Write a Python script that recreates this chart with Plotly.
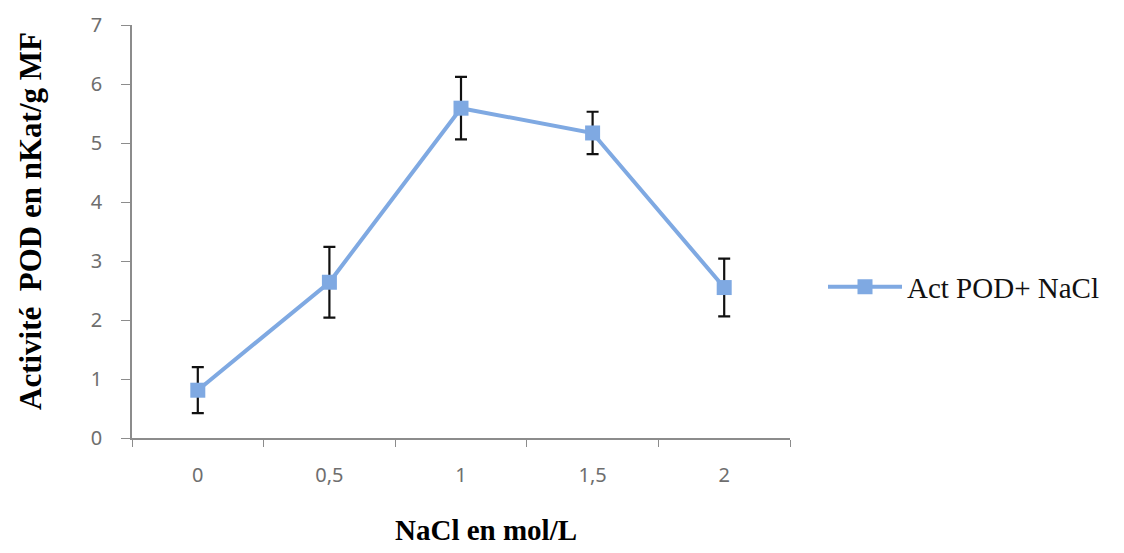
import plotly.graph_objects as go

categories = ["0", "0,5", "1", "1,5", "2"]
pod_activity = [0.81, 2.64, 5.59, 5.17, 2.55]
pod_error = [0.39, 0.60, 0.53, 0.36, 0.49]
y_ticks = [0, 1, 2, 3, 4, 5, 6, 7]

# page body has an 8px default margin; work in screen pixels and shift
OFF = 8
W, H = 1124 - OFF, 553 - OFF
L, T = 132 - OFF, 25 - OFF
pw, ph = 658, 413
R, B = W - L - pw, H - T - ph

def px_x(x):
    return (x - OFF - L) / pw

def px_y(y):
    return (T + ph - (y - OFF)) / ph

line_color = "#7FA9E2"
axis_color = "#8C8C8C"
tick_font = dict(family="Noto Sans, Liberation Sans, sans-serif", size=20, color="#6E6E6E")
serif = "Liberation Serif, Times New Roman, serif"

fig = go.Figure()
fig.add_trace(go.Scatter(
    x=categories,
    y=pod_activity,
    mode="lines+markers",
    name="Act POD+ NaCl",
    line=dict(color=line_color, width=4),
    marker=dict(symbol="square", size=15, color=line_color),
    error_y=dict(type="data", array=pod_error, visible=True,
                 color="#111111", thickness=2.2, width=6),
))

fig.update_layout(
    width=W, height=H,
    margin=dict(l=L, r=R, t=T, b=B, autoexpand=False),
    paper_bgcolor="white",
    plot_bgcolor="white",
    showlegend=True,
    legend=dict(
        x=px_x(823), y=px_y(287), xanchor="left", yanchor="middle",
        font=dict(family=serif, size=29, color="#111111"),
        itemwidth=74,
        bgcolor="rgba(0,0,0,0)",
    ),
    xaxis=dict(
        type="category",
        range=[-0.5, 4.5],
        showline=True, linecolor=axis_color, linewidth=1.5,
        showgrid=False, zeroline=False,
        ticks="outside", tickson="boundaries", ticklen=7, tickcolor=axis_color, tickwidth=1.2,
        tickfont=tick_font,
        ticklabelstandoff=18,
    ),
    yaxis=dict(
        range=[0, 7],
        tickvals=y_ticks,
        showline=True, linecolor=axis_color, linewidth=1.5,
        showgrid=False, zeroline=False,
        ticks="outside", ticklen=9, tickcolor=axis_color, tickwidth=1.2,
        tickfont=tick_font,
        ticklabelstandoff=15,
    ),
    annotations=[
        dict(text="<b>Activité\u00a0 POD en nKat/g MF</b>", xref="paper", yref="paper",
             x=px_x(31), y=px_y(221), xanchor="center", yanchor="middle",
             textangle=-90, showarrow=False,
             font=dict(family=serif, size=31, color="#000000")),
        dict(text="<b>NaCl en mol/L</b>", xref="paper", yref="paper",
             x=px_x(486), y=px_y(530), xanchor="center", yanchor="middle",
             showarrow=False,
             font=dict(family=serif, size=29, color="#000000")),
    ],
)

fig.write_html("out.html")
